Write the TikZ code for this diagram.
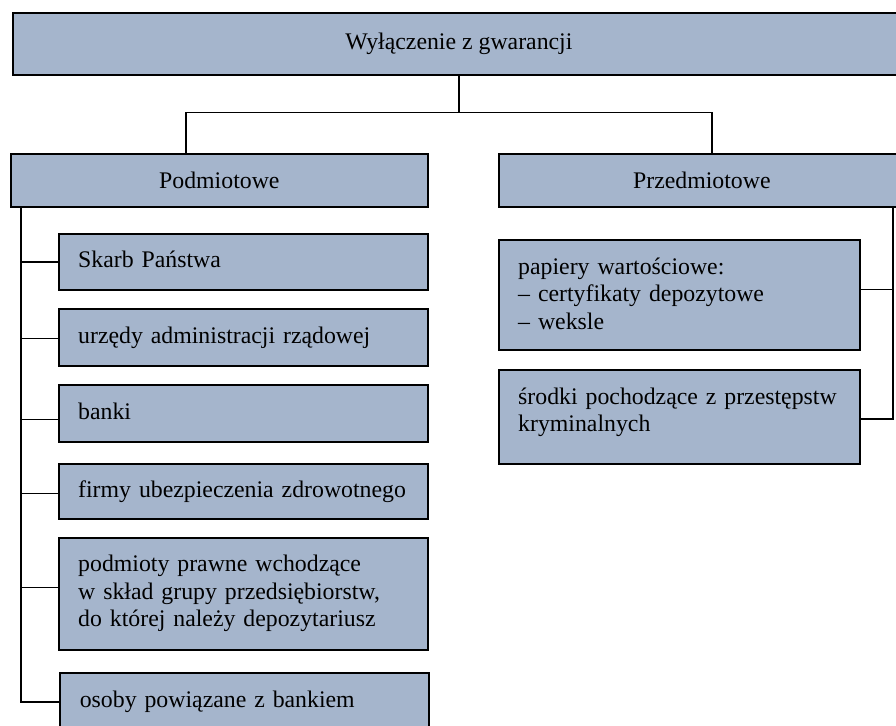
\documentclass[tikz,border=0pt]{standalone}
\usepackage{fontspec}
\setmainfont{Liberation Serif}
\usepackage{tikz}
\usetikzlibrary{positioning}
\definecolor{colorbox}{RGB}{165,181,204}
\newcommand\boxfont{\fontsize{23.8pt}{27.5pt}\selectfont}

\begin{document}
\begin{tikzpicture}[
    x=1pt, y=-1pt,
    box/.style={draw=black, line width=2pt, fill=colorbox, anchor=north west, inner sep=0pt, font=\boxfont},
    title/.style={box, align=center},
    item/.style={box, align=left, inner xsep=19.5pt, inner ysep=0pt, text height=34pt},
    link/.style={line width=1.6pt},
]
    \path[use as bounding box, clip] (0,0) rectangle (896,725);

    % top level
    \node[title, minimum width=892.3pt, minimum height=61.7pt] (root) at (11.7,12.3) {Wyłączenie z gwarancji};
    \node[title, minimum width=416.7pt, minimum height=53.3pt] (podm) at (10,152.7) {Podmiotowe};
    \node[title, minimum width=406.3pt, minimum height=53.3pt] (przedm) at (497.7,152.7) {Przedmiotowe};

    % left column
    \node[item, text width=330pt, text depth=22.3pt] (skarb) at (57.7,232.7) {Skarb Państwa};
    \node[item, text width=330pt, text depth=22.7pt] (urzedy) at (57.7,308) {urzędy administracji rządowej};
    \node[item, text width=330pt, text depth=22.7pt] (banki) at (57.7,384) {banki};
    \node[item, text width=330pt, text depth=21.3pt] (firmy) at (57.7,462.7) {firmy ubezpieczenia zdrowotnego};
    \node[item, text width=330pt, text depth=78.3pt] (podmioty) at (57.7,536.7) {podmioty prawne wchodzące\\
    w skład grupy przedsiębiorstw,\\
    do której należy depozytariusz};
    \node[item, text width=330pt, text depth=23.7pt] (osoby) at (59.3,672.3) {osoby powiązane z bankiem};

    % right column
    \node[item, text width=322.3pt, text depth=75.7pt] (papiery) at (497.7,239) {papiery wartościowe:\\
    – certyfikaty depozytowe\\
    – weksle};
    \node[item, text width=322.3pt, text depth=59.7pt] (srodki) at (497.7,369) {środki pochodzące z przestępstw\\
    kryminalnych};

    % connectors
    \coordinate (fork) at (root.south |- 0,112.5);
    \draw[link] (root.south) -- (fork);
    \draw[link] ([xshift=175.7pt]podm.north west) |- (fork) -| ([xshift=214.3pt]przedm.north west);

    \coordinate (spine) at ([xshift=10.7pt]podm.south west);
    \draw[link] (spine) |- (osoby.west);
    \draw[link] (skarb.west) -- (skarb.west -| spine);
    \draw[link] ([yshift=-1.3pt]urzedy.west) -- ([yshift=-1.3pt]urzedy.west -| spine);
    \draw[link] ([yshift=-6.3pt]banki.west) -- ([yshift=-6.3pt]banki.west -| spine);
    \draw[link] ([yshift=-2.3pt]firmy.west) -- ([yshift=-2.3pt]firmy.west -| spine);
    \draw[link] ([yshift=6.2pt]podmioty.west) -- ([yshift=6.2pt]podmioty.west -| spine);

    \coordinate (rspine) at ([xshift=395pt]przedm.south west);
    \draw[link] (rspine) |- ([yshift=-2pt]srodki.east);
    \draw[link] ([yshift=5.2pt]papiery.east) -- ([yshift=5.2pt]papiery.east -| rspine);

\end{tikzpicture}
\end{document}
